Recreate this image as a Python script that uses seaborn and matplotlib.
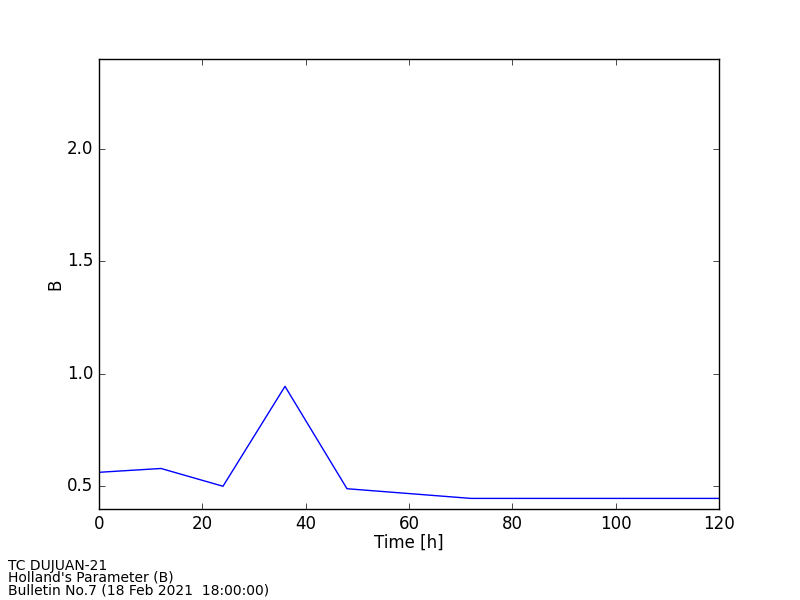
import numpy as np
import pandas as pd
import matplotlib
matplotlib.use('Agg')
import matplotlib.pyplot as plt
import seaborn as sns

hours = [0, 12, 24, 36, 48, 72, 84, 96, 108, 120]
b_param = [0.563, 0.580, 0.501, 0.945, 0.490, 0.447, 0.447, 0.447, 0.447, 0.447]
info_lines = ["TC DUJUAN-21", "Holland's Parameter (B)", "Bulletin No.7 (18 Feb 2021  18:00:00)"]

plt.style.use('classic')
df = pd.DataFrame({'Time': hours, 'B': b_param})

fig = plt.figure(figsize=(8, 6), dpi=100, facecolor='white')
ax = fig.add_axes([0.12375, 0.1517, 0.775, 0.75])
sns.lineplot(data=df, x='Time', y='B', ax=ax, color='b', linewidth=1)
ax.set_xlim(0, 120)
ax.set_ylim(0.4, 2.4)
ax.set_yticks([0.5, 1.0, 1.5, 2.0])
ax.set_xlabel("Time [h]", labelpad=1)
ax.set_ylabel("B", labelpad=2)

fig.text(0.01, 0.005, "\n".join(info_lines), fontsize=10, va='bottom', ha='left', linespacing=0.82)

fig.savefig("out.png", dpi=100, facecolor='white')
